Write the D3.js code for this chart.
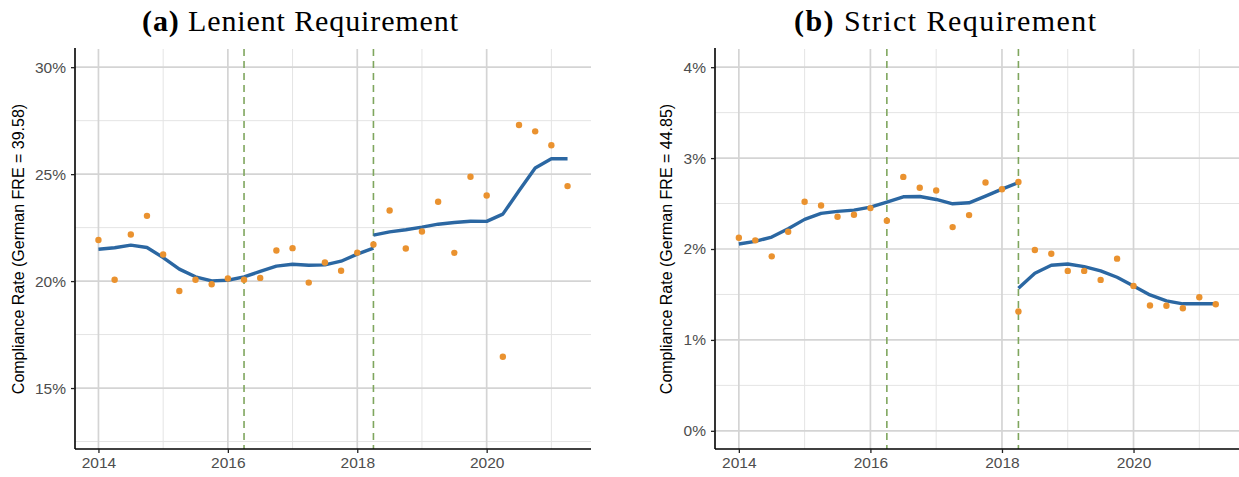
<!DOCTYPE html>
<html>
<head>
<meta charset="utf-8">
<script src="https://cdn.jsdelivr.net/npm/d3@7"></script>
<style>
  html, body { margin: 0; padding: 0; background: #fff; }
  svg { display: block; }
</style>
</head>
<body>
<svg id="chart" width="1239" height="477"></svg>
<script>
// Quarterly observation dates
const preQuarters = [2014.0, 2014.25, 2014.5, 2014.75, 2015.0, 2015.25, 2015.5, 2015.75,
  2016.0, 2016.25, 2016.5, 2016.75, 2017.0, 2017.25, 2017.5, 2017.75, 2018.0, 2018.25];
const postQuarters = [2018.25, 2018.5, 2018.75, 2019.0, 2019.25, 2019.5, 2019.75,
  2020.0, 2020.25, 2020.5, 2020.75, 2021.0, 2021.25];

// Policy change dates (vertical dashed markers)
const policyDates = [2016.25, 2018.25];

// Lenient requirement: observed compliance rate (%) and smoothed fit
const lenientPrePoints = [21.92, 20.06, 22.18, 23.05, 21.24, 19.54, 20.06, 19.85,
  20.12, 20.06, 20.15, 21.43, 21.54, 19.93, 20.87, 20.48, 21.33, 21.71];
const lenientPostPoints = [null, 23.30, 21.52, 22.32, 23.71, 21.32, 24.88,
  24.00, 16.46, 27.30, 27.00, 26.35, 24.44];
const lenientPreFit = [21.49, 21.56, 21.68, 21.57, 21.10, 20.56, 20.20, 20.01,
  20.04, 20.20, 20.45, 20.70, 20.79, 20.74, 20.76, 20.93, 21.26, 21.54];
const lenientPostFit = [22.15, 22.30, 22.40, 22.52, 22.66, 22.74, 22.80,
  22.79, 23.13, 24.22, 25.29, 25.72, 25.72];

// Strict requirement: observed compliance rate (%) and smoothed fit
const strictPrePoints = [2.124, 2.095, 1.919, 2.190, 2.519, 2.479, 2.354, 2.376,
  2.450, 2.310, 2.793, 2.673, 2.644, 2.241, 2.373, 2.731, 2.658, 2.738];
const strictPostPoints = [1.312, 1.989, 1.948, 1.759, 1.759, 1.660, 1.894,
  1.594, 1.378, 1.375, 1.349, 1.470, 1.393];
const strictPreFit = [2.055, 2.084, 2.131, 2.223, 2.326, 2.392, 2.414, 2.428,
  2.461, 2.516, 2.574, 2.578, 2.545, 2.497, 2.508, 2.581, 2.658, 2.731];
const strictPostFit = [1.569, 1.733, 1.821, 1.835, 1.806, 1.759, 1.689,
  1.594, 1.495, 1.430, 1.397, 1.397, 1.397];

// Axis ticks and labels
const xTicks = [2014, 2016, 2018, 2020];
const xMinor = [2015, 2017, 2019, 2021];
const lenientYTicks = [15, 20, 25, 30];
const lenientYMinor = [12.5, 17.5, 22.5, 27.5];
const strictYTicks = [0, 1, 2, 3, 4];
const strictYMinor = [0.5, 1.5, 2.5, 3.5];

const panels = [
  {
    tag: "(a)", title: " Lenient Requirement", titleX: 142, titleW: 316,
    yLabel: "Compliance Rate (German FRE = 39.58)",
    left: 75, right: 591, yDomain: [12.15, 30.85],
    yTicks: lenientYTicks, yMinor: lenientYMinor, yLabelX: 24,
    prePts: lenientPrePoints, postPts: lenientPostPoints,
    preFit: lenientPreFit, postFit: lenientPostFit
  },
  {
    tag: "(b)", title: " Strict Requirement", titleX: 794, titleW: 302,
    yLabel: "Compliance Rate (German FRE = 44.85)",
    left: 715, right: 1239.6, yDomain: [-0.2, 4.2],
    yTicks: strictYTicks, yMinor: strictYMinor, yLabelX: 672,
    prePts: strictPrePoints, postPts: strictPostPoints,
    preFit: strictPreFit, postFit: strictPostFit
  }
];

const plotTop = 49, plotBottom = 449;
const xDomain = [2013.6375, 2021.6125];
const svg = d3.select("#chart");

const colPoint = "#EA922F", colLine = "#2B67A2", colDash = "#7FA65E";
const colMajor = "#D4D4D4", colMinor = "#E4E4E4";

panels.forEach(p => {
  const x = d3.scaleLinear().domain(xDomain).range([p.left, p.right]);
  const y = d3.scaleLinear().domain(p.yDomain).range([plotBottom, plotTop]);
  const g = svg.append("g");

  // grid
  const grid = g.append("g");
  grid.selectAll(".ymin").data(p.yMinor).join("line")
    .attr("x1", p.left).attr("x2", p.right)
    .attr("y1", d => y(d)).attr("y2", d => y(d))
    .attr("stroke", colMinor).attr("stroke-width", 1);
  grid.selectAll(".xmin").data(xMinor).join("line")
    .attr("x1", d => x(d)).attr("x2", d => x(d))
    .attr("y1", plotTop).attr("y2", plotBottom)
    .attr("stroke", colMinor).attr("stroke-width", 1);
  grid.selectAll(".ymaj").data(p.yTicks).join("line")
    .attr("x1", p.left).attr("x2", p.right)
    .attr("y1", d => y(d)).attr("y2", d => y(d))
    .attr("stroke", colMajor).attr("stroke-width", 1.7);
  grid.selectAll(".xmaj").data(xTicks).join("line")
    .attr("x1", d => x(d)).attr("x2", d => x(d))
    .attr("y1", plotTop).attr("y2", plotBottom)
    .attr("stroke", colMajor).attr("stroke-width", 1.7);

  // policy change markers
  g.selectAll(".policy").data(policyDates).join("line")
    .attr("x1", d => x(d)).attr("x2", d => x(d))
    .attr("y1", plotTop).attr("y2", plotBottom)
    .attr("stroke", colDash).attr("stroke-width", 1.6)
    .attr("stroke-dasharray", "7,5");

  // smoothed fits
  const line = d3.line().x(d => x(d[0])).y(d => y(d[1]));
  [[preQuarters, p.preFit], [postQuarters, p.postFit]].forEach(([qs, vals]) => {
    g.append("path")
      .datum(qs.map((q, i) => [q, vals[i]]))
      .attr("d", line)
      .attr("fill", "none").attr("stroke", colLine)
      .attr("stroke-width", 3.4).attr("stroke-linejoin", "round");
  });

  // observed points
  const pts = preQuarters.map((q, i) => [q, p.prePts[i]])
    .concat(postQuarters.map((q, i) => [q, p.postPts[i]]))
    .filter(d => d[1] !== null);
  g.selectAll(".pt").data(pts).join("circle")
    .attr("cx", d => x(d[0])).attr("cy", d => y(d[1]))
    .attr("r", 3.2).attr("fill", colPoint);

  // axes
  const yAxis = d3.axisLeft(y).tickValues(p.yTicks).tickSize(4).tickPadding(5)
    .tickFormat(d => d + "%");
  const ya = g.append("g").attr("transform", `translate(${p.left},0)`).call(yAxis);
  ya.select(".domain").attr("d", `M0,${plotTop - 1}V${plotBottom}`).attr("stroke", "#000").attr("stroke-width", 1.6);
  const xAxis = d3.axisBottom(x).tickValues(xTicks).tickSize(4).tickPadding(4)
    .tickFormat(d3.format("d"));
  const xa = g.append("g").attr("transform", `translate(0,${plotBottom})`).call(xAxis);
  xa.select(".domain").attr("d", `M${p.left},0H${p.right}`).attr("stroke", "#000").attr("stroke-width", 1.6);
  [ya, xa].forEach(a => {
    a.selectAll(".tick line").attr("stroke", "#222").attr("stroke-width", 1.3);
    a.selectAll(".tick text").attr("fill", "#4D4D4D")
      .style("font-family", "Liberation Sans, Arial, sans-serif").style("font-size", "15.5px");
  });

  // y title
  g.append("text")
    .attr("transform", `translate(${p.yLabelX},${(plotTop + plotBottom) / 2}) rotate(-90)`)
    .attr("text-anchor", "middle")
    .style("font-family", "Liberation Sans, Arial, sans-serif").style("font-size", "16px")
    .attr("fill", "#000").text(p.yLabel);

  // panel title
  const t = svg.append("text").attr("x", p.titleX).attr("y", 31)
    .attr("text-anchor", "start")
    .attr("textLength", p.titleW).attr("lengthAdjust", "spacing")
    .style("font-family", "Liberation Serif, Times New Roman, serif").style("font-size", "30px")
    .attr("fill", "#000");
  t.append("tspan").style("font-weight", "bold").text(p.tag);
  t.append("tspan").text(p.title);
});
</script>
</body>
</html>
